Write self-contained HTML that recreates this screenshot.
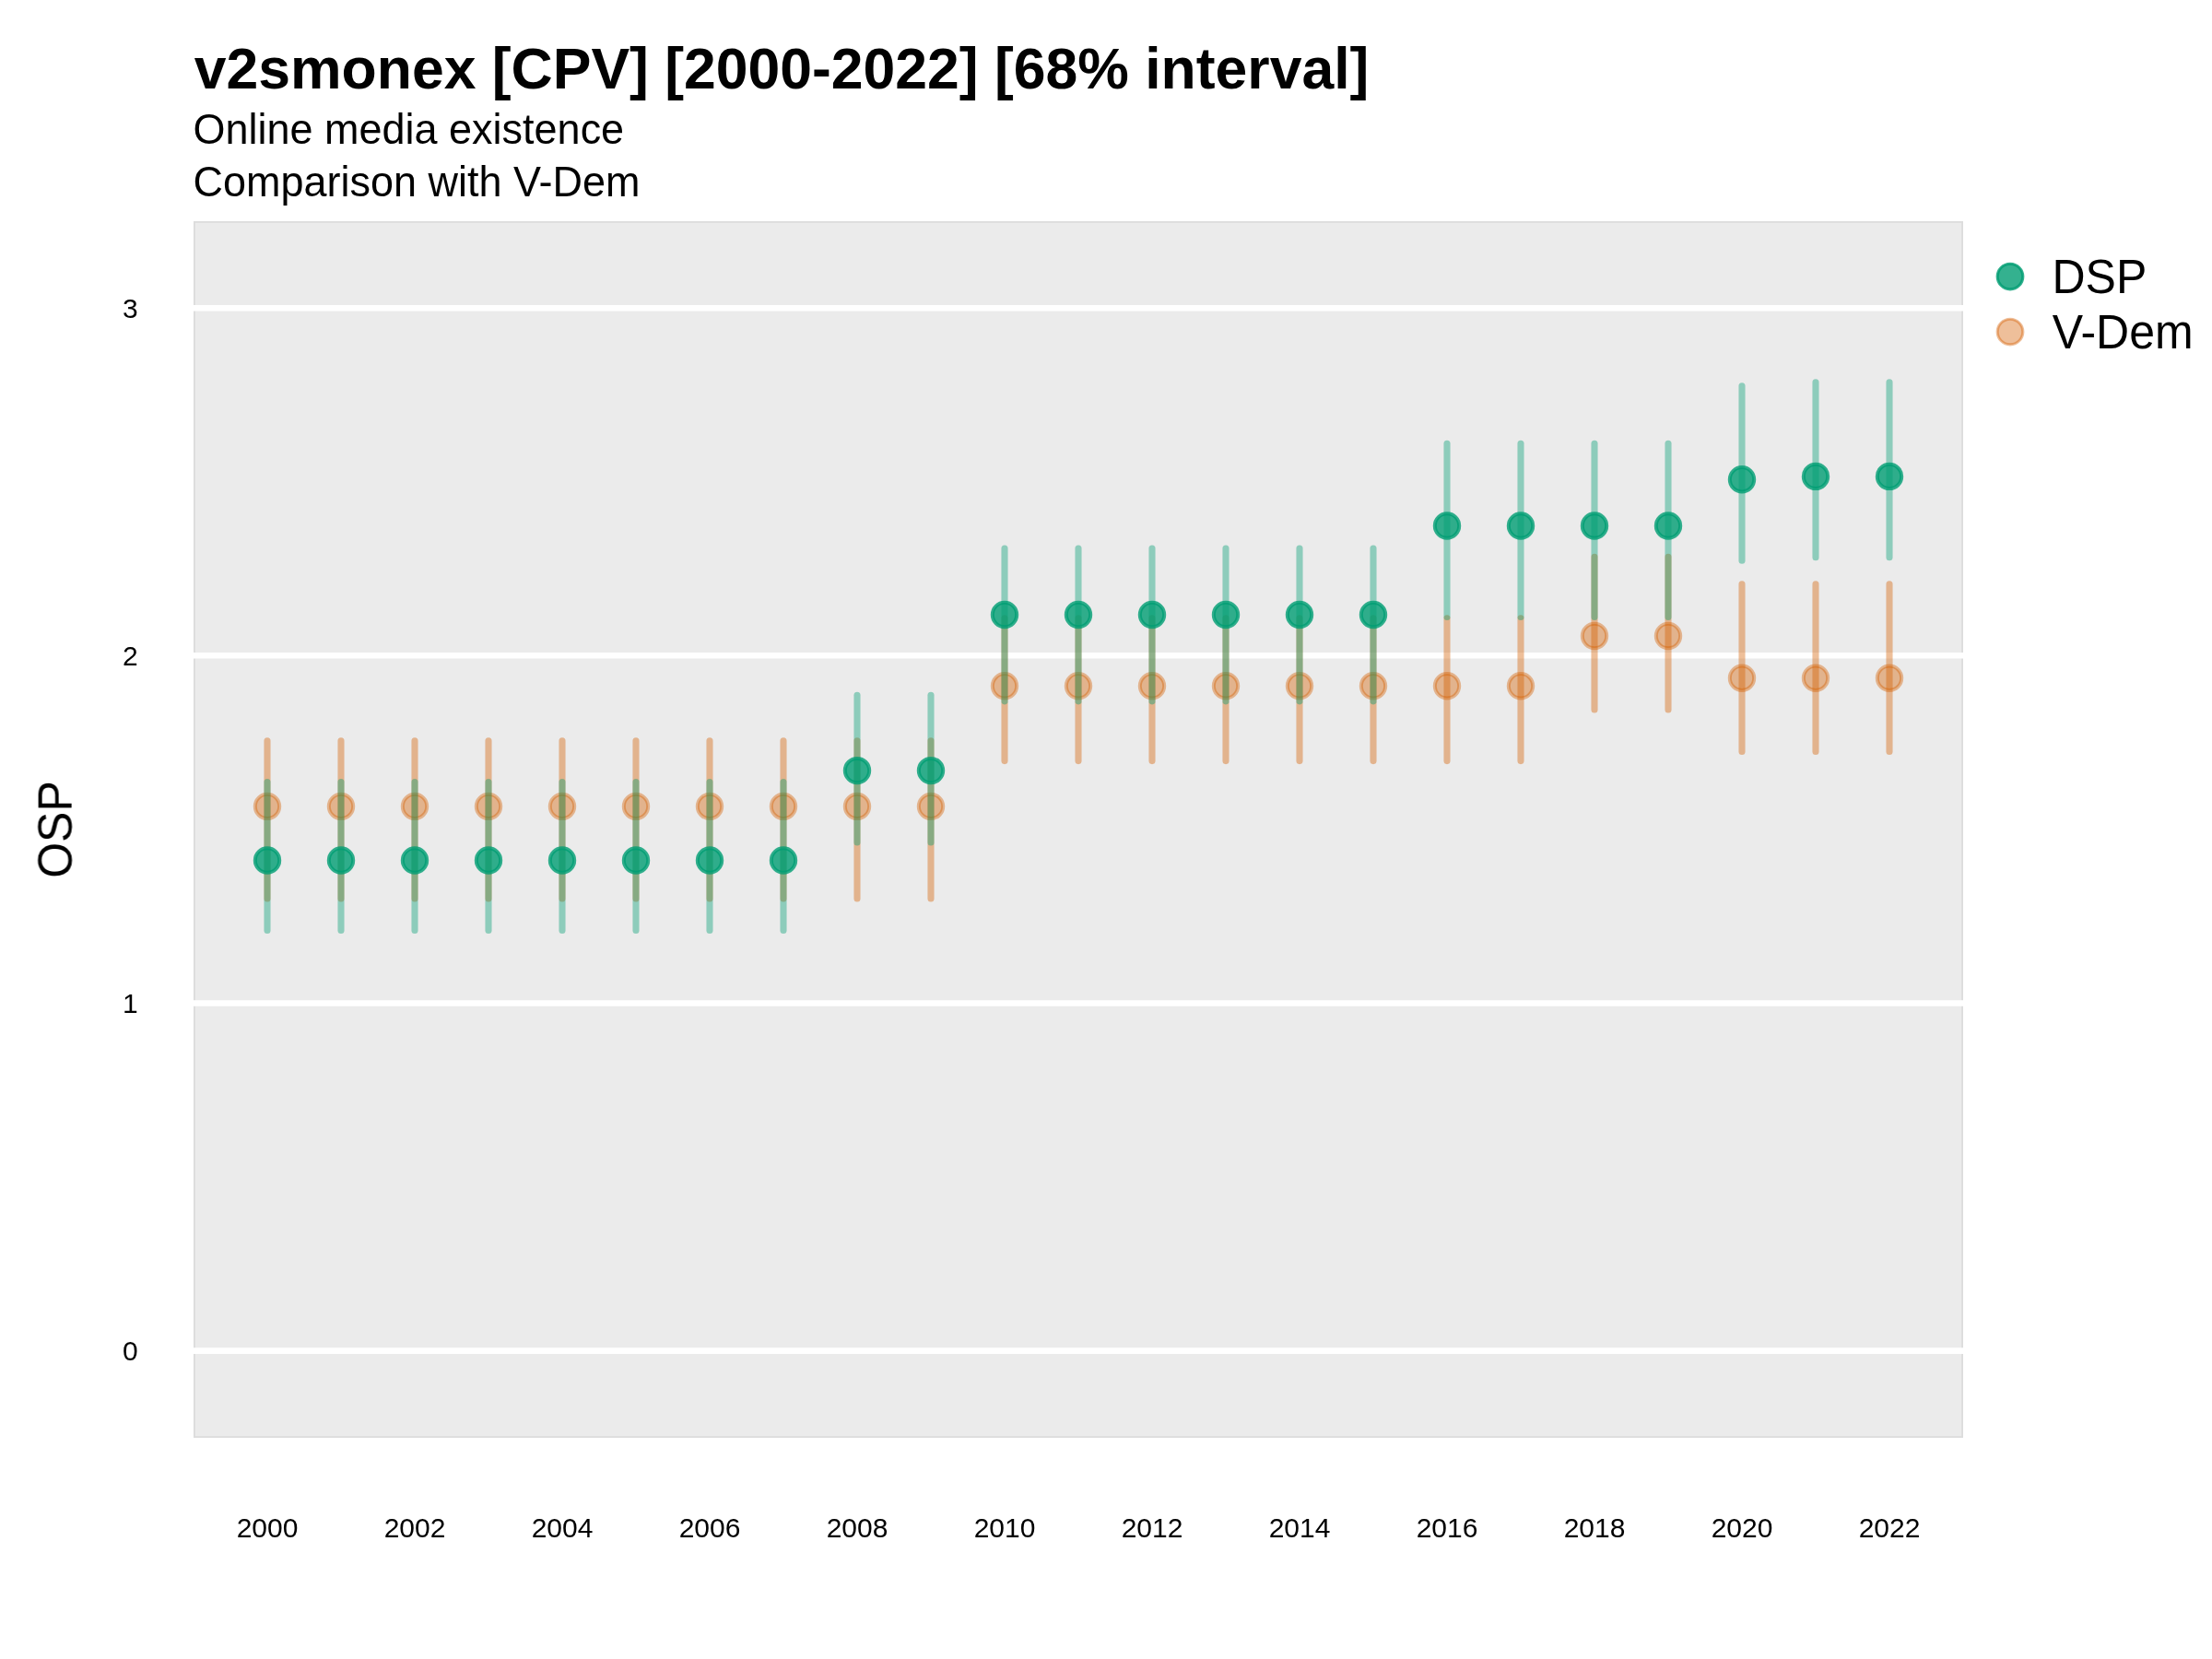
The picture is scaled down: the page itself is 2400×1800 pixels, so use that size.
<!DOCTYPE html>
<html><head><meta charset="utf-8"><style>
html,body{margin:0;padding:0;background:#fff;}
svg{display:block;}
text{font-family:"Liberation Sans",Arial,sans-serif;fill:#000;}
.t{opacity:0.999;}
</style></head><body>
<svg width="2400" height="1800" viewBox="0 0 2400 1800">
<rect x="0" y="0" width="2400" height="1800" fill="#fff"/>
<g class="t">
<text transform="translate(210.8,95.9) scale(1,1.02)" font-size="62.5" font-weight="bold">v2smonex [CPV] [2000-2022] [68% interval]</text>
<text transform="translate(209.5,155.85) scale(1,1.015)" font-size="45">Online media existence</text>
<text transform="translate(209.5,212.7) scale(1,1.015)" font-size="45">Comparison with V-Dem</text>
</g>
<defs><clipPath id="pc"><rect x="210" y="240" width="1920" height="1320"/></clipPath></defs>
<g clip-path="url(#pc)">
<rect x="210" y="240" width="1920" height="1320" fill="#EBEBEB" stroke="#DCDCDC" stroke-width="3.6"/>
<g stroke="#fff" stroke-width="6.6"><line x1="210" y1="334.2" x2="2130" y2="334.2"/><line x1="210" y1="711.3" x2="2130" y2="711.3"/><line x1="210" y1="1088.5" x2="2130" y2="1088.5"/><line x1="210" y1="1465.6" x2="2130" y2="1465.6"/></g>
<g stroke="#D55E00" stroke-opacity="0.4" stroke-width="7.1" stroke-linecap="round"><line x1="290" y1="803.8" x2="290" y2="975.0"/><line x1="370" y1="803.8" x2="370" y2="975.0"/><line x1="450" y1="803.8" x2="450" y2="975.0"/><line x1="530" y1="803.8" x2="530" y2="975.0"/><line x1="610" y1="803.8" x2="610" y2="975.0"/><line x1="690" y1="803.8" x2="690" y2="975.0"/><line x1="770" y1="803.8" x2="770" y2="975.0"/><line x1="850" y1="803.8" x2="850" y2="975.0"/><line x1="930" y1="803.8" x2="930" y2="975.0"/><line x1="1010" y1="803.8" x2="1010" y2="975.0"/><line x1="1090" y1="670.8" x2="1090" y2="825.6"/><line x1="1170" y1="670.8" x2="1170" y2="825.6"/><line x1="1250" y1="670.8" x2="1250" y2="825.6"/><line x1="1330" y1="670.8" x2="1330" y2="825.6"/><line x1="1410" y1="670.8" x2="1410" y2="825.6"/><line x1="1490" y1="670.8" x2="1490" y2="825.6"/><line x1="1570" y1="670.8" x2="1570" y2="825.6"/><line x1="1650" y1="670.8" x2="1650" y2="825.6"/><line x1="1730" y1="604.4" x2="1730" y2="770.0"/><line x1="1810" y1="604.4" x2="1810" y2="770.0"/><line x1="1890" y1="633.9" x2="1890" y2="815.5"/><line x1="1970" y1="633.9" x2="1970" y2="815.5"/><line x1="2050" y1="633.9" x2="2050" y2="815.5"/></g>
<circle cx="290" cy="874.9" r="13.0" fill="#D55E00" fill-opacity="0.4"/><circle cx="290" cy="874.9" r="13.2" fill="none" stroke="#D55E00" stroke-opacity="0.4" stroke-width="4.0"/><circle cx="370" cy="874.9" r="13.0" fill="#D55E00" fill-opacity="0.4"/><circle cx="370" cy="874.9" r="13.2" fill="none" stroke="#D55E00" stroke-opacity="0.4" stroke-width="4.0"/><circle cx="450" cy="874.9" r="13.0" fill="#D55E00" fill-opacity="0.4"/><circle cx="450" cy="874.9" r="13.2" fill="none" stroke="#D55E00" stroke-opacity="0.4" stroke-width="4.0"/><circle cx="530" cy="874.9" r="13.0" fill="#D55E00" fill-opacity="0.4"/><circle cx="530" cy="874.9" r="13.2" fill="none" stroke="#D55E00" stroke-opacity="0.4" stroke-width="4.0"/><circle cx="610" cy="874.9" r="13.0" fill="#D55E00" fill-opacity="0.4"/><circle cx="610" cy="874.9" r="13.2" fill="none" stroke="#D55E00" stroke-opacity="0.4" stroke-width="4.0"/><circle cx="690" cy="874.9" r="13.0" fill="#D55E00" fill-opacity="0.4"/><circle cx="690" cy="874.9" r="13.2" fill="none" stroke="#D55E00" stroke-opacity="0.4" stroke-width="4.0"/><circle cx="770" cy="874.9" r="13.0" fill="#D55E00" fill-opacity="0.4"/><circle cx="770" cy="874.9" r="13.2" fill="none" stroke="#D55E00" stroke-opacity="0.4" stroke-width="4.0"/><circle cx="850" cy="874.9" r="13.0" fill="#D55E00" fill-opacity="0.4"/><circle cx="850" cy="874.9" r="13.2" fill="none" stroke="#D55E00" stroke-opacity="0.4" stroke-width="4.0"/><circle cx="930" cy="874.9" r="13.0" fill="#D55E00" fill-opacity="0.4"/><circle cx="930" cy="874.9" r="13.2" fill="none" stroke="#D55E00" stroke-opacity="0.4" stroke-width="4.0"/><circle cx="1010" cy="874.9" r="13.0" fill="#D55E00" fill-opacity="0.4"/><circle cx="1010" cy="874.9" r="13.2" fill="none" stroke="#D55E00" stroke-opacity="0.4" stroke-width="4.0"/><circle cx="1090" cy="744.3" r="13.0" fill="#D55E00" fill-opacity="0.4"/><circle cx="1090" cy="744.3" r="13.2" fill="none" stroke="#D55E00" stroke-opacity="0.4" stroke-width="4.0"/><circle cx="1170" cy="744.3" r="13.0" fill="#D55E00" fill-opacity="0.4"/><circle cx="1170" cy="744.3" r="13.2" fill="none" stroke="#D55E00" stroke-opacity="0.4" stroke-width="4.0"/><circle cx="1250" cy="744.3" r="13.0" fill="#D55E00" fill-opacity="0.4"/><circle cx="1250" cy="744.3" r="13.2" fill="none" stroke="#D55E00" stroke-opacity="0.4" stroke-width="4.0"/><circle cx="1330" cy="744.3" r="13.0" fill="#D55E00" fill-opacity="0.4"/><circle cx="1330" cy="744.3" r="13.2" fill="none" stroke="#D55E00" stroke-opacity="0.4" stroke-width="4.0"/><circle cx="1410" cy="744.3" r="13.0" fill="#D55E00" fill-opacity="0.4"/><circle cx="1410" cy="744.3" r="13.2" fill="none" stroke="#D55E00" stroke-opacity="0.4" stroke-width="4.0"/><circle cx="1490" cy="744.3" r="13.0" fill="#D55E00" fill-opacity="0.4"/><circle cx="1490" cy="744.3" r="13.2" fill="none" stroke="#D55E00" stroke-opacity="0.4" stroke-width="4.0"/><circle cx="1570" cy="744.3" r="13.0" fill="#D55E00" fill-opacity="0.4"/><circle cx="1570" cy="744.3" r="13.2" fill="none" stroke="#D55E00" stroke-opacity="0.4" stroke-width="4.0"/><circle cx="1650" cy="744.3" r="13.0" fill="#D55E00" fill-opacity="0.4"/><circle cx="1650" cy="744.3" r="13.2" fill="none" stroke="#D55E00" stroke-opacity="0.4" stroke-width="4.0"/><circle cx="1730" cy="690.0" r="13.0" fill="#D55E00" fill-opacity="0.4"/><circle cx="1730" cy="690.0" r="13.2" fill="none" stroke="#D55E00" stroke-opacity="0.4" stroke-width="4.0"/><circle cx="1810" cy="690.0" r="13.0" fill="#D55E00" fill-opacity="0.4"/><circle cx="1810" cy="690.0" r="13.2" fill="none" stroke="#D55E00" stroke-opacity="0.4" stroke-width="4.0"/><circle cx="1890" cy="735.7" r="13.0" fill="#D55E00" fill-opacity="0.4"/><circle cx="1890" cy="735.7" r="13.2" fill="none" stroke="#D55E00" stroke-opacity="0.4" stroke-width="4.0"/><circle cx="1970" cy="735.7" r="13.0" fill="#D55E00" fill-opacity="0.4"/><circle cx="1970" cy="735.7" r="13.2" fill="none" stroke="#D55E00" stroke-opacity="0.4" stroke-width="4.0"/><circle cx="2050" cy="735.7" r="13.0" fill="#D55E00" fill-opacity="0.4"/><circle cx="2050" cy="735.7" r="13.2" fill="none" stroke="#D55E00" stroke-opacity="0.4" stroke-width="4.0"/>
<g stroke="#009E73" stroke-opacity="0.4" stroke-width="7.1" stroke-linecap="round"><line x1="290" y1="848.6" x2="290" y2="1009.5"/><line x1="370" y1="848.6" x2="370" y2="1009.5"/><line x1="450" y1="848.6" x2="450" y2="1009.5"/><line x1="530" y1="848.6" x2="530" y2="1009.5"/><line x1="610" y1="848.6" x2="610" y2="1009.5"/><line x1="690" y1="848.6" x2="690" y2="1009.5"/><line x1="770" y1="848.6" x2="770" y2="1009.5"/><line x1="850" y1="848.6" x2="850" y2="1009.5"/><line x1="930" y1="754.3" x2="930" y2="914.0"/><line x1="1010" y1="754.3" x2="1010" y2="914.0"/><line x1="1090" y1="595.1" x2="1090" y2="760.9"/><line x1="1170" y1="595.1" x2="1170" y2="760.9"/><line x1="1250" y1="595.1" x2="1250" y2="760.9"/><line x1="1330" y1="595.1" x2="1330" y2="760.9"/><line x1="1410" y1="595.1" x2="1410" y2="760.9"/><line x1="1490" y1="595.1" x2="1490" y2="760.9"/><line x1="1570" y1="481.4" x2="1570" y2="669.5"/><line x1="1650" y1="481.4" x2="1650" y2="669.5"/><line x1="1730" y1="481.4" x2="1730" y2="669.5"/><line x1="1810" y1="481.4" x2="1810" y2="669.5"/><line x1="1890" y1="418.8" x2="1890" y2="608.2"/><line x1="1970" y1="414.9" x2="1970" y2="604.8"/><line x1="2050" y1="414.9" x2="2050" y2="604.8"/></g>
<circle cx="290" cy="933.5" r="13.0" fill="#009E73" fill-opacity="0.8"/><circle cx="290" cy="933.5" r="13.2" fill="none" stroke="#009E73" stroke-opacity="0.8" stroke-width="4.0"/><circle cx="370" cy="933.5" r="13.0" fill="#009E73" fill-opacity="0.8"/><circle cx="370" cy="933.5" r="13.2" fill="none" stroke="#009E73" stroke-opacity="0.8" stroke-width="4.0"/><circle cx="450" cy="933.5" r="13.0" fill="#009E73" fill-opacity="0.8"/><circle cx="450" cy="933.5" r="13.2" fill="none" stroke="#009E73" stroke-opacity="0.8" stroke-width="4.0"/><circle cx="530" cy="933.5" r="13.0" fill="#009E73" fill-opacity="0.8"/><circle cx="530" cy="933.5" r="13.2" fill="none" stroke="#009E73" stroke-opacity="0.8" stroke-width="4.0"/><circle cx="610" cy="933.5" r="13.0" fill="#009E73" fill-opacity="0.8"/><circle cx="610" cy="933.5" r="13.2" fill="none" stroke="#009E73" stroke-opacity="0.8" stroke-width="4.0"/><circle cx="690" cy="933.5" r="13.0" fill="#009E73" fill-opacity="0.8"/><circle cx="690" cy="933.5" r="13.2" fill="none" stroke="#009E73" stroke-opacity="0.8" stroke-width="4.0"/><circle cx="770" cy="933.5" r="13.0" fill="#009E73" fill-opacity="0.8"/><circle cx="770" cy="933.5" r="13.2" fill="none" stroke="#009E73" stroke-opacity="0.8" stroke-width="4.0"/><circle cx="850" cy="933.5" r="13.0" fill="#009E73" fill-opacity="0.8"/><circle cx="850" cy="933.5" r="13.2" fill="none" stroke="#009E73" stroke-opacity="0.8" stroke-width="4.0"/><circle cx="930" cy="836.1" r="13.0" fill="#009E73" fill-opacity="0.8"/><circle cx="930" cy="836.1" r="13.2" fill="none" stroke="#009E73" stroke-opacity="0.8" stroke-width="4.0"/><circle cx="1010" cy="836.1" r="13.0" fill="#009E73" fill-opacity="0.8"/><circle cx="1010" cy="836.1" r="13.2" fill="none" stroke="#009E73" stroke-opacity="0.8" stroke-width="4.0"/><circle cx="1090" cy="667.0" r="13.0" fill="#009E73" fill-opacity="0.8"/><circle cx="1090" cy="667.0" r="13.2" fill="none" stroke="#009E73" stroke-opacity="0.8" stroke-width="4.0"/><circle cx="1170" cy="667.0" r="13.0" fill="#009E73" fill-opacity="0.8"/><circle cx="1170" cy="667.0" r="13.2" fill="none" stroke="#009E73" stroke-opacity="0.8" stroke-width="4.0"/><circle cx="1250" cy="667.0" r="13.0" fill="#009E73" fill-opacity="0.8"/><circle cx="1250" cy="667.0" r="13.2" fill="none" stroke="#009E73" stroke-opacity="0.8" stroke-width="4.0"/><circle cx="1330" cy="667.0" r="13.0" fill="#009E73" fill-opacity="0.8"/><circle cx="1330" cy="667.0" r="13.2" fill="none" stroke="#009E73" stroke-opacity="0.8" stroke-width="4.0"/><circle cx="1410" cy="667.0" r="13.0" fill="#009E73" fill-opacity="0.8"/><circle cx="1410" cy="667.0" r="13.2" fill="none" stroke="#009E73" stroke-opacity="0.8" stroke-width="4.0"/><circle cx="1490" cy="667.0" r="13.0" fill="#009E73" fill-opacity="0.8"/><circle cx="1490" cy="667.0" r="13.2" fill="none" stroke="#009E73" stroke-opacity="0.8" stroke-width="4.0"/><circle cx="1570" cy="570.5" r="13.0" fill="#009E73" fill-opacity="0.8"/><circle cx="1570" cy="570.5" r="13.2" fill="none" stroke="#009E73" stroke-opacity="0.8" stroke-width="4.0"/><circle cx="1650" cy="570.5" r="13.0" fill="#009E73" fill-opacity="0.8"/><circle cx="1650" cy="570.5" r="13.2" fill="none" stroke="#009E73" stroke-opacity="0.8" stroke-width="4.0"/><circle cx="1730" cy="570.5" r="13.0" fill="#009E73" fill-opacity="0.8"/><circle cx="1730" cy="570.5" r="13.2" fill="none" stroke="#009E73" stroke-opacity="0.8" stroke-width="4.0"/><circle cx="1810" cy="570.5" r="13.0" fill="#009E73" fill-opacity="0.8"/><circle cx="1810" cy="570.5" r="13.2" fill="none" stroke="#009E73" stroke-opacity="0.8" stroke-width="4.0"/><circle cx="1890" cy="520.2" r="13.0" fill="#009E73" fill-opacity="0.8"/><circle cx="1890" cy="520.2" r="13.2" fill="none" stroke="#009E73" stroke-opacity="0.8" stroke-width="4.0"/><circle cx="1970" cy="516.9" r="13.0" fill="#009E73" fill-opacity="0.8"/><circle cx="1970" cy="516.9" r="13.2" fill="none" stroke="#009E73" stroke-opacity="0.8" stroke-width="4.0"/><circle cx="2050" cy="516.9" r="13.0" fill="#009E73" fill-opacity="0.8"/><circle cx="2050" cy="516.9" r="13.2" fill="none" stroke="#009E73" stroke-opacity="0.8" stroke-width="4.0"/>
</g>
<g class="t">
<g font-size="30" text-anchor="end"><text x="149.7" y="344.5">3</text><text x="149.7" y="721.6">2</text><text x="149.7" y="1098.8">1</text><text x="149.7" y="1475.9">0</text></g>
<g font-size="30" text-anchor="middle"><text x="290" y="1667.8">2000</text><text x="450" y="1667.8">2002</text><text x="610" y="1667.8">2004</text><text x="770" y="1667.8">2006</text><text x="930" y="1667.8">2008</text><text x="1090" y="1667.8">2010</text><text x="1250" y="1667.8">2012</text><text x="1410" y="1667.8">2014</text><text x="1570" y="1667.8">2016</text><text x="1730" y="1667.8">2018</text><text x="1890" y="1667.8">2020</text><text x="2050" y="1667.8">2022</text></g>
<text transform="translate(78,900) rotate(-90) scale(1,1.03)" font-size="50" text-anchor="middle">OSP</text>
<circle cx="2181" cy="300" r="14.0" fill="#009E73" fill-opacity="0.8"/><circle cx="2181" cy="300" r="13.8" fill="none" stroke="#009E73" stroke-opacity="0.8" stroke-width="3.15"/>
<circle cx="2181" cy="360" r="14.0" fill="#D55E00" fill-opacity="0.4"/><circle cx="2181" cy="360" r="13.8" fill="none" stroke="#D55E00" stroke-opacity="0.4" stroke-width="3.15"/>
<text transform="translate(2226.5,317.8) scale(1,1.035)" font-size="50">DSP</text>
<text transform="translate(2226.8,377.8) scale(1,1.035)" font-size="50">V-Dem</text>
</g>
</svg>
</body></html>
